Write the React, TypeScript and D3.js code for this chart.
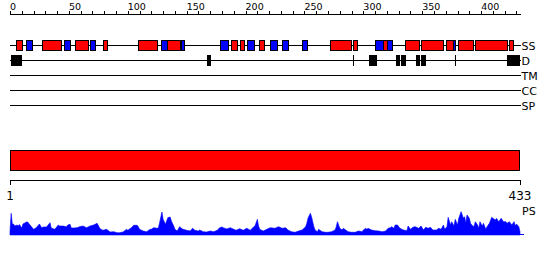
import React from "react";
import * as d3 from "d3";

const SEQ_LEN = 433;

// Secondary structure elements: [start, end, type] (H = helix red, E = strand blue)
const ssStart = [5, 14, 27, 46, 55, 68, 79, 109, 128, 133.5, 145.5, 178, 188, 195, 201.5, 211, 221, 231, 248, 272, 291, 310, 316.5, 320, 335, 349, 370.5, 376, 380, 395, 424];
const ssEnd = [10, 19, 43, 51, 66, 72, 82, 125, 133, 144, 148, 185, 193, 198.5, 207, 216, 226.5, 236, 252, 289.5, 294.5, 316.5, 320, 324, 347, 368, 376, 378, 393, 422, 427];
const ssType = ["H", "E", "H", "E", "H", "E", "H", "H", "E", "H", "E", "E", "H", "H", "E", "H", "E", "E", "E", "H", "H", "E", "H", "E", "H", "H", "H", "E", "H", "H", "H"];

// Disordered regions
const dStart = [1, 167, 291, 305, 328, 332, 345, 349, 378, 422];
const dEnd = [10, 170.5, 291, 311.5, 331, 336, 348, 353, 378, 433];

const trackLabels = ["SS", "D", "TM", "CC", "SP"];

// Profile (PS) readings: residue, value
const psRes = [0, 1, 2, 3, 4, 6, 7, 8, 10, 11, 14, 15, 17, 20, 22, 25, 27, 28, 31, 34, 35, 38, 41, 42, 45, 48, 49, 51, 52, 54, 57, 59, 62, 65, 68, 71, 74, 76, 77, 79, 82, 85, 88, 91, 93, 96, 99, 100, 103, 105, 108, 109, 110, 113, 116, 119, 120, 122, 125, 126, 127, 129, 130, 132, 133, 134, 136, 137, 139, 140, 142, 144, 146, 147, 150, 153, 155, 157, 160, 161, 164, 167, 170, 173, 176, 178, 180, 181, 184, 187, 190, 192, 195, 198, 201, 204, 207, 208, 210, 211, 212, 215, 218, 221, 225, 228, 231, 234, 236, 239, 242, 245, 248, 251, 252, 253, 255, 256, 258, 259, 261, 262, 265, 268, 270, 273, 276, 277, 278, 280, 282, 283, 285, 287, 290, 293, 296, 299, 300, 302, 303, 304, 307, 310, 313, 316, 319, 321, 323, 324, 326,
  327, 329, 331, 334, 337, 338, 340, 342, 344, 347, 349, 351, 353, 355, 357, 359, 362, 364, 366, 368, 369, 371, 372, 374, 375, 377, 378, 380, 381, 383, 385, 386, 387, 388, 390, 391, 392, 394, 395, 397, 398, 399, 401, 402, 404, 405, 407, 409, 410, 412, 413, 415, 417, 419, 421, 422, 424, 426, 428, 429, 430, 432, 433];
const psVal = [4, 21.7, 10.7, 11, 9, 10, 9, 10.5, 7, 11, 13, 13, 10, 5.7, 7, 11, 7, 8, 8, 12.3, 7, 5.7, 10, 9, 9, 8.3, 10, 10.7, 7, 7, 7.3, 8.3, 9, 7.3, 9, 10, 11.7, 7.3, 5.7, 4.7, 5.7, 3, 3.3, 2.3, 2.3, 3, 5.7, 4.7, 7.3, 9.7, 9.7, 8, 5.7, 4, 3.3, 5.7, 5.7, 7.3, 6.7, 7.3, 12.3, 23, 15.7, 10.7, 14, 17.3, 18, 14, 9, 5.7, 4, 8.3, 6.3, 5.7, 4.7, 4, 6.7, 4.7, 4, 5, 3.3, 3, 4, 3.3, 4.7, 7.3, 8, 7.3, 6, 7.3, 5.7, 4.7, 6.3, 4.7, 6.7, 4.7, 8.3, 9, 15.7, 9, 5.7, 4, 5.7, 7.3, 6.7, 8.3, 6.7, 7.3, 5, 3.3, 2.7, 4, 5, 8.3, 11.7, 16.7, 21.7, 18.3, 8.3, 5, 3.3, 5.7, 3.3, 2.7, 2.7, 3.3, 5, 8.3, 13.3, 6.7, 5, 6.7, 5, 3.3, 2.7, 2.7, 4, 3.3, 5, 6.7, 5.7, 6.7, 5, 4.3, 4, 3.3, 4, 6.7, 7.3, 8.3, 6.7,
  10, 10, 6.7, 5, 4.3, 9, 5.7, 7.7, 8.3, 6.7, 9, 5, 7.7, 6.7, 7.7, 5, 5, 6.7, 5.7, 10, 5.7, 8.3, 17.7, 10, 13.3, 9, 15.7, 10, 16.7, 23.3, 16.7, 18.3, 11.7, 20, 16.7, 11.7, 10, 8.3, 13.3, 10, 6.7, 13.3, 9, 11.7, 5.7, 8.3, 11.7, 17.7, 16.7, 15, 16.7, 13.3, 16.7, 13.3, 13.3, 11.7, 13.3, 10, 13.3, 9, 11, 8.3, 3.3];

const topTicks = d3.range(0, 431, 10);
const topLabels = d3.range(0, 401, 50);
const bottomTicks = [1, 433];

const RED = "#ff0000";
const BLUE = "#0000ff";
const FONT = "DejaVu Sans, sans-serif";

export default function App() {
  const x = d3.scaleLinear().domain([0, SEQ_LEN]).range([10, 520]);
  const xb = d3.scaleLinear().domain([1, SEQ_LEN]).range([10, 520]);
  const yPs = d3.scaleLinear().domain([0, 25]).range([235, 210]);
  const px = (v: number) => Math.round(x(v)) + 0.5;

  const trackY = [45.5, 60.5, 75.5, 90.5, 105.5];
  const lineEnd = 521;

  const psData = psRes.map((r, i) => [r, psVal[i]] as [number, number]);
  const area = d3
    .area<[number, number]>()
    .x((d) => x(d[0]))
    .y0(yPs(0))
    .y1((d) => yPs(d[1]));

  return (
    <svg
      width={550}
      height={260}
      style={{ position: "absolute", left: 0, top: 0, background: "#fff" }}
      fontFamily={FONT}
    >
      <rect width={550} height={260} fill="#fff" />
      {/* top axis */}
      <line x1={10} x2={lineEnd} y1={14.5} y2={14.5} stroke="#000" />
      {topTicks.map((t) => (
        <line key={t} x1={px(t)} x2={px(t)} y1={11} y2={14.5} stroke="#000" />
      ))}
      {topLabels.map((t) => (
        <text key={t} x={x(t)} y={9.5} fontSize={9.5} fill="#000">
          {t}
        </text>
      ))}

      {/* track lines and labels */}
      {trackY.map((ty, i) => (
        <g key={i}>
          <line x1={10} x2={lineEnd} y1={ty} y2={ty} stroke="#000" />
          <text x={lineEnd + 0.5} y={ty + 4.5} fontSize={11} fill="#000">
            {trackLabels[i]}
          </text>
        </g>
      ))}

      {/* SS elements */}
      {ssStart.map((s, i) => {
        const x0 = px(s);
        const x1 = px(ssEnd[i]);
        return (
          <rect
            key={i}
            x={x0}
            y={40.5}
            width={Math.max(1, x1 - x0)}
            height={10}
            fill={ssType[i] === "H" ? RED : BLUE}
            stroke="#000"
          />
        );
      })}

      {/* Disorder */}
      {dStart.map((s, i) => {
        const x0 = Math.round(x(s));
        const x1 = Math.round(x(dEnd[i]));
        return (
          <rect
            key={i}
            x={x0}
            y={55}
            width={Math.max(1, x1 - x0)}
            height={11}
            fill="#000"
          />
        );
      })}

      {/* domain bar */}
      <rect x={10.5} y={150.5} width={509} height={20} fill={RED} stroke="#000" />

      {/* bottom axis */}
      <line x1={10} x2={521} y1={180.5} y2={180.5} stroke="#000" />
      {bottomTicks.map((t) => (
        <g key={t}>
          <line x1={Math.round(xb(t)) + 0.5} x2={Math.round(xb(t)) + 0.5} y1={180.5} y2={185} stroke="#000" />
          <text x={xb(t)} y={200} fontSize={12} textAnchor="middle" fill="#000">
            {t}
          </text>
        </g>
      ))}

      {/* PS profile */}
      <path d={area(psData) || ""} fill={BLUE} stroke={BLUE} strokeWidth={0.6} />
      <line x1={10} x2={524} y1={234.5} y2={234.5} stroke={BLUE} />
      <text x={522} y={215} fontSize={11} fill="#000">
        PS
      </text>
    </svg>
  );
}
